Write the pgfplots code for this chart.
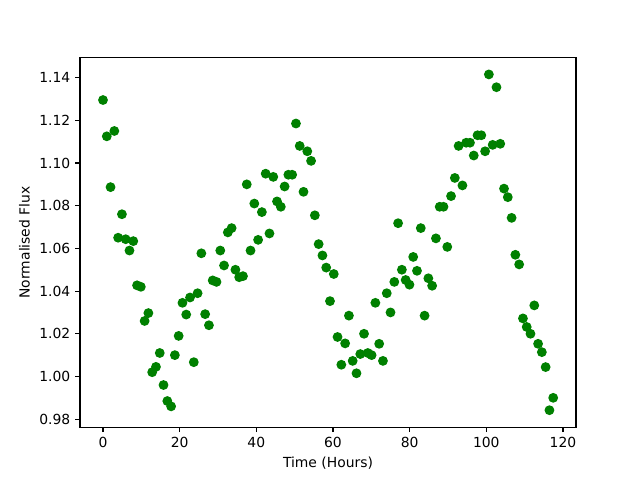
\documentclass[border=0pt]{standalone}
\usepackage{pgfplots}
\pgfplotsset{compat=1.18}
\usepackage{fontspec}
\setmainfont{DejaVu Sans}
\definecolor{mplgreen}{RGB}{0,128,0}
\begin{document}
\begin{tikzpicture}
\path[use as bounding box] (-57.6pt,-38.02pt) rectangle (403.2pt,307.58pt);
\begin{axis}[
  at={(0pt,0pt)}, anchor=south west,
  scale only axis,
  width=357.12pt, height=266.11pt,
  xmin=-6.0, xmax=123.4,
  ymin=0.97624, ymax=1.14938,
  xtick={0,20,40,60,80,100,120},
  ytick={0.98,1.00,1.02,1.04,1.06,1.08,1.10,1.12,1.14},
  yticklabel style={/pgf/number format/.cd, fixed, fixed zerofill, precision=2},
  xticklabel style={/pgf/number format/.cd, fixed},
  /pgf/number format/assume math mode=true,
  tick pos=left,
  tick align=outside,
  major tick length=3.5pt,
  every tick/.style={black, line width=0.8pt},
  axis line style={line width=0.8pt},
  tick label style={font=\fontsize{10}{12}\selectfont},
  label style={font=\fontsize{10}{12}\selectfont},
  xlabel={Time (Hours)},
  ylabel={Normalised Flux},
  scaled y ticks=false,
]
\addplot[only marks, mark=*, mark size=3pt, mark options={fill=mplgreen, draw=mplgreen, line width=1pt}] coordinates {
(0.00,1.1295) (0.99,1.1125) (1.97,1.0887) (2.96,1.1150) (3.95,1.0650)
(4.94,1.0760) (5.92,1.0643) (6.91,1.0590) (7.90,1.0634) (8.88,1.0427)
(9.87,1.0420) (10.86,1.0260) (11.84,1.0297) (12.83,1.0020) (13.82,1.0045)
(14.81,1.0110) (15.79,0.9960) (16.78,0.9885) (17.77,0.9860) (18.75,1.0100)
(19.74,1.0190) (20.73,1.0345) (21.71,1.0290) (22.70,1.0370) (23.69,1.0067)
(24.68,1.0390) (25.66,1.0577) (26.65,1.0292) (27.64,1.0240) (28.62,1.0450)
(29.61,1.0443) (30.60,1.0590) (31.58,1.0520) (32.57,1.0675) (33.56,1.0695)
(34.55,1.0500) (35.53,1.0465) (36.52,1.0470) (37.51,1.0900) (38.49,1.0590)
(39.48,1.0810) (40.47,1.0640) (41.45,1.0770) (42.44,1.0950) (43.43,1.0670)
(44.42,1.0935) (45.40,1.0820) (46.39,1.0795) (47.38,1.0890) (48.36,1.0945)
(49.35,1.0945) (50.34,1.1185) (51.32,1.1080) (52.31,1.0865) (53.30,1.1055)
(54.29,1.1010) (55.27,1.0755) (56.26,1.0620) (57.25,1.0567) (58.23,1.0510)
(59.22,1.0353) (60.21,1.0480) (61.19,1.0185) (62.18,1.0055) (63.17,1.0155)
(64.16,1.0285) (65.14,1.0073) (66.13,1.0015) (67.12,1.0105) (68.10,1.0200)
(69.09,1.0110) (70.08,1.0100) (71.06,1.0345) (72.05,1.0153) (73.04,1.0073)
(74.03,1.0390) (75.01,1.0300) (76.00,1.0443) (76.99,1.0718) (77.97,1.0500)
(78.96,1.0452) (79.95,1.0430) (80.93,1.0560) (81.92,1.0495) (82.91,1.0695)
(83.90,1.0285) (84.88,1.0460) (85.87,1.0425) (86.86,1.0647) (87.84,1.0795)
(88.83,1.0795) (89.82,1.0607) (90.80,1.0845) (91.79,1.0930) (92.78,1.1080)
(93.77,1.0895) (94.75,1.1095) (95.74,1.1095) (96.73,1.1035) (97.71,1.1130)
(98.70,1.1130) (99.69,1.1055) (100.67,1.1415) (101.66,1.1085) (102.65,1.1355)
(103.64,1.1090) (104.62,1.0880) (105.61,1.0840) (106.60,1.0743) (107.58,1.0570)
(108.57,1.0525) (109.56,1.0272) (110.54,1.0232) (111.53,1.0200) (112.52,1.0333)
(113.51,1.0153) (114.49,1.0114) (115.48,1.0044) (116.47,0.9842) (117.45,0.9900)
};
\end{axis}
\end{tikzpicture}
\end{document}
